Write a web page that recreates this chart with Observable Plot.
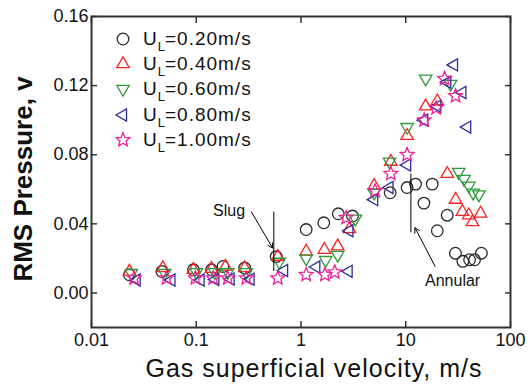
<!DOCTYPE html>
<html><head><meta charset="utf-8">
<script src="https://cdn.jsdelivr.net/npm/d3@7"></script>
<script src="https://cdn.jsdelivr.net/npm/@observablehq/plot@0.6"></script>
<style>
body{margin:0;background:#fff;}
#wrap{position:relative;width:529px;height:390px;font-family:"Liberation Sans",Arial,sans-serif;}
.row{position:absolute;height:24px;line-height:24px;font-size:19px;letter-spacing:1px;color:#111;white-space:nowrap;}
.row sub{font-size:13px;vertical-align:baseline;position:relative;top:6px;letter-spacing:0;}
.row svg{position:absolute;overflow:visible;}
</style></head><body><div id="wrap"></div>
<script>
// ---- data (x: gas superficial velocity m/s, y: RMS pressure V) ----
const ul020 = [[0.023,0.0105],[0.047,0.0124],[0.094,0.0134],[0.14,0.0134],[0.18,0.0153],[0.29,0.0144],[0.58,0.021],[1.12,0.0367],[1.65,0.0406],[2.27,0.0458],[3.1,0.0445],[7.1,0.058],[10.3,0.061],[12.4,0.063],[14.9,0.052],[17.9,0.063],[20,0.036],[24.9,0.045],[29.8,0.023],[35.1,0.0183],[40.7,0.0192],[45.4,0.0192],[52.7,0.023]];
const ul040 = [[0.023,0.0124],[0.048,0.0144],[0.094,0.0134],[0.14,0.014],[0.19,0.0153],[0.29,0.0144],[0.6,0.021],[1.12,0.024],[1.67,0.025],[2.24,0.027],[2.9,0.037],[5.0,0.062],[7.2,0.076],[10.3,0.091],[15.5,0.108],[20,0.111],[24.9,0.069],[29.9,0.054],[34.7,0.047],[40,0.045],[43.4,0.041],[51.8,0.046]];
const ul060 = [[0.024,0.0115],[0.05,0.0115],[0.1,0.012],[0.15,0.012],[0.2,0.012],[0.3,0.012],[0.62,0.018],[1.12,0.020],[1.72,0.019],[2.24,0.022],[3.3,0.043],[5.0,0.058],[7.0,0.076],[10.3,0.096],[15.5,0.124],[26.8,0.121],[32,0.070],[36,0.066],[40,0.062],[44,0.058],[50,0.057]];
const ul080 = [[0.027,0.0075],[0.058,0.0075],[0.11,0.0075],[0.152,0.0078],[0.213,0.008],[0.33,0.008],[0.69,0.013],[1.4,0.015],[2.85,0.0125],[2.9,0.036],[5.0,0.054],[7.0,0.061],[10.3,0.074],[15,0.100],[20,0.108],[24.9,0.122],[28.9,0.132],[34.7,0.116],[38.6,0.096]];
const ul100 = [[0.0255,0.0085],[0.052,0.0085],[0.098,0.0085],[0.145,0.0085],[0.2,0.0085],[0.3,0.0085],[0.6,0.0085],[1.12,0.0105],[1.69,0.0105],[2.1,0.012],[2.7,0.0435],[5.1,0.059],[7.2,0.069],[10.3,0.080],[15,0.100],[19.5,0.107],[23.5,0.124],[29.9,0.114]];

const legendValues = ["0.20","0.40","0.60","0.80","1.00"];
const seriesColors = ["#2a2a2a","#ff2020","#2e9a3a","#2c2c9c","#f0209a"];

const xTicks = [0.01,0.1,1,10,100];
const xTickLabels = ["0.01","0.1","1","10","100"];
const yTicks = [0,0.04,0.08,0.12,0.16];
const xTitle = ["Gas superficial velocity, m/s"];
const yTitle = ["RMS Pressure, v"];

const annotLabels = [{text:"Slug", x:0.206, y:0.0474},{text:"Annular", x:28.0, y:0.0070}];
const annotRules = [{x:0.55, y1:0.0468, y2:0.0124},{x:11.2, y1:0.0687, y2:0.0348}];
const annotArrows = [{x1:0.336, y1:0.0469, x2:0.536, y2:0.026},{x1:19.1, y1:0.0153, x2:12.26, y2:0.0377}];

// ---- symbols ----
function poly(angles){ return {draw(ctx,size){ const R=Math.sqrt(size/Math.PI); angles.forEach((a,i)=>{const t=a*Math.PI/180; const x=R*Math.cos(t), y=R*Math.sin(t); i?ctx.lineTo(x,y):ctx.moveTo(x,y);}); ctx.closePath(); }}; }
const triUp = poly([-90,30,150]);
const triDown = poly([90,210,330]);
const triLeft = poly([180,300,60]);
const star = {draw(ctx,size){ const R=Math.sqrt(size/Math.PI), r=R*0.45; for(let i=0;i<10;i++){const t=-Math.PI/2+i*Math.PI/5; const rr=i%2?r:R; const x=rr*Math.cos(t), y=rr*Math.sin(t); i?ctx.lineTo(x,y):ctx.moveTo(x,y);} ctx.closePath(); }};
const circ = {draw(ctx,size){ const R=Math.sqrt(size/Math.PI); ctx.moveTo(R,0); ctx.arc(0,0,R,0,2*Math.PI); }};
const symbols = [circ, triUp, triDown, triLeft, star];
const radii = [5.8, 7.2, 7.2, 7.0, 7.2];
const seriesData = [ul020, ul040, ul060, ul080, ul100];

const fontFamily = '"Liberation Sans", Arial, sans-serif';

const dotMarks = seriesData.map((s,i)=>Plot.dot(s,{x:d=>d[0], y:d=>d[1], symbol:symbols[i], r:radii[i], stroke:seriesColors[i], strokeWidth:1.3, fill:"none"}));

const plot = Plot.plot({
  width:529, height:390,
  marginLeft:91, marginRight:19, marginTop:16, marginBottom:63,
  style:{fontFamily, background:"white", color:"#111"},
  x:{type:"log", domain:[0.01,100]},
  y:{domain:[-0.02,0.16]},
  marks:[
    Plot.axisX({ticks:xTicks, anchor:"bottom", tickSize:0, tickPadding:6, fontSize:18, tickFormat:(d)=>xTickLabels[xTicks.indexOf(d)], label:null}),
    Plot.axisX({ticks:xTicks, anchor:"bottom", tickSize:-6, fill:"none", label:null, stroke:"#333", strokeWidth:1.5}),
    Plot.axisX({ticks:xTicks, anchor:"top", tickSize:-6, fill:"none", label:null, stroke:"#333", strokeWidth:1.5}),
    Plot.axisY({ticks:yTicks, anchor:"left", tickSize:0, tickPadding:3, fontSize:18, tickFormat:d3.format(".2f"), label:null}),
    Plot.axisY({ticks:yTicks, anchor:"left", tickSize:-6, fill:"none", label:null, stroke:"#333", strokeWidth:1.5}),
    Plot.axisY({ticks:yTicks, anchor:"right", tickSize:-6, fill:"none", label:null, stroke:"#333", strokeWidth:1.5}),
    Plot.frame({stroke:"#333", strokeWidth:2}),
    ...dotMarks,
    Plot.ruleX(annotRules,{x:"x", y1:"y1", y2:"y2", stroke:"#000", strokeWidth:1}),
    Plot.arrow(annotArrows,{x1:"x1", y1:"y1", x2:"x2", y2:"y2", stroke:"#000", strokeWidth:1, headLength:8}),
    Plot.text(annotLabels,{x:"x", y:"y", text:"text", fontSize:16, fill:"#111"}),
    Plot.text(xTitle,{text:d=>d, frameAnchor:"bottom", textAnchor:"middle", dy:49, dx:13, fontSize:25, fill:"#111"}),
    Plot.text(yTitle,{text:d=>d, frameAnchor:"left", textAnchor:"middle", rotate:-90, dx:-68, dy:7, fontSize:26, fontWeight:"bold", fill:"#111"})
  ]
});
d3.select(plot).selectAll("text").filter(function(){return this.textContent===xTitle[0];}).style("letter-spacing","1px");

const wrap = document.getElementById("wrap");
wrap.appendChild(plot);

// ---- legend (inside the frame, top-left) ----
legendValues.forEach((v,i)=>{
  const row = document.createElement("div");
  row.className = "row";
  const cy = 38.5 + i*25.4;
  row.style.left = "143px";
  row.style.top = (cy-12)+"px";
  row.innerHTML = `U<sub>L</sub>=${v}m/s`;
  const svg = d3.create("svg").attr("width",20).attr("height",20)
    .style("left","-30px").style("top","2px");
  const p = d3.path();
  symbols[i].draw(p, radii[i]*radii[i]*Math.PI);
  svg.append("path").attr("transform","translate(10,10)").attr("d",p.toString())
    .attr("fill","none").attr("stroke",seriesColors[i]).attr("stroke-width",1.3);
  row.prepend(svg.node());
  wrap.appendChild(row);
});
</script>
</body></html>
